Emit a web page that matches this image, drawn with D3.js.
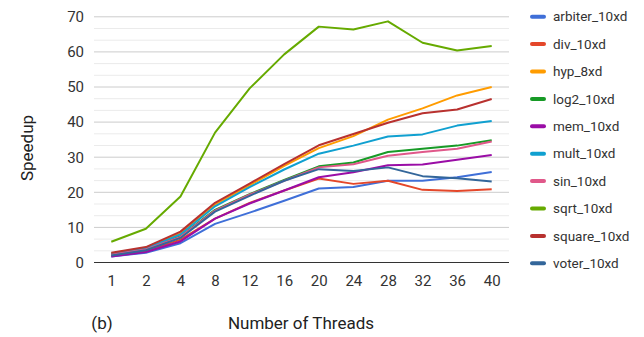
<!DOCTYPE html>
<html><head><meta charset="utf-8">
<script src="https://cdn.jsdelivr.net/npm/d3@7"></script>
<style>body{margin:0;background:#fff}svg{display:block;font-family:Roboto,Arial,sans-serif}</style>
</head><body><svg id="c" width="644" height="337"></svg>
<script>
const threads = ["1","2","4","8","12","16","20","24","28","32","36","40"];
const seriesNames = ["arbiter_10xd","div_10xd","hyp_8xd","log2_10xd","mem_10xd","mult_10xd","sin_10xd","sqrt_10xd","square_10xd","voter_10xd"];
const colors = ["#3f6fd8","#e4472a","#ff9c00","#179a26","#9a0da6","#10a0d0","#e0588a","#66aa00","#b8312f","#33669a"];
const arbiter = [1.7,2.8,5.5,11,14.2,17.6,21.1,21.5,23.3,23.3,24.3,25.8];
const div =     [2.0,3.3,6.5,12.5,17,20.5,23.9,22.4,23.3,20.7,20.4,20.9];
const hyp =     [2.6,4.2,8.3,16.5,22,27.5,32.6,36,40.7,43.9,47.6,50];
const log2 =    [2.3,3.8,7.5,15,19.5,23.5,27.4,28.5,31.5,32.4,33.3,34.8];
const mem =     [1.7,3.0,6.0,12.5,16.8,20.5,24.3,25.7,27.7,27.9,29.3,30.6];
const mult =    [2.5,4.0,8.0,16,21.5,26.5,31,33.3,35.9,36.5,39,40.3];
const sin =     [2.2,3.7,7.3,14.8,19.3,23.3,27.1,28,30.4,31.5,32.4,34.5];
const sqrt =    [5.9,9.6,18.8,37,49.6,59.3,67.2,66.4,68.7,62.6,60.4,61.7];
const square =  [2.8,4.4,8.8,17,22.5,28,33.4,36.6,39.8,42.5,43.6,46.6];
const voter =   [2.0,3.5,7.0,14.5,19,23.3,26.6,26.1,27.1,24.6,24.0,23.1];
const yMajor = [0,10,20,30,40,50,60,70];
const seriesValues = [arbiter,div,hyp,log2,mem,mult,sin,sqrt,square,voter];

const svg = d3.select("#c");
const L = 94, R = 509, T = 16.8, B = 262.5;
const x = d3.scalePoint().domain(threads).range([L, R]).padding(0.5);
const y = d3.scaleLinear().domain([0,70]).range([B, T]);

// minor gridlines
const minor = d3.range(0, 70.01, 10/3).filter(v => Math.abs(v/10 - Math.round(v/10)) > 0.01);
svg.append("g").selectAll("line").data(minor).join("line")
  .attr("x1", L).attr("x2", R).attr("y1", d => y(d)).attr("y2", d => y(d))
  .attr("stroke", "#ebebeb").attr("stroke-width", 1);
// major gridlines
svg.append("g").selectAll("line").data(yMajor.filter(v=>v>0)).join("line")
  .attr("x1", L).attr("x2", R).attr("y1", d => y(d)).attr("y2", d => y(d))
  .attr("stroke", "#cccccc").attr("stroke-width", 1);
// baseline
svg.append("line").attr("x1", L).attr("x2", R).attr("y1", y(0)).attr("y2", y(0))
  .attr("stroke", "#333").attr("stroke-width", 1);

// y axis labels
const yAxis = d3.axisLeft(y).tickValues(yMajor).tickSize(0).tickPadding(10);
const gy = svg.append("g").attr("transform", `translate(${L},0)`).call(yAxis);
gy.select(".domain").remove();
gy.selectAll("text").attr("font-size", 15).attr("fill", "#333").attr("font-family","Roboto");

// x axis labels
const xAxis = d3.axisBottom(x).tickSize(0).tickPadding(13);
const gx = svg.append("g").attr("transform", `translate(0,${B})`).call(xAxis);
gx.select(".domain").remove();
gx.selectAll("text").attr("font-size", 15).attr("fill", "#333").attr("font-family","Roboto");

// lines
const line = d3.line().x((d,i) => x(threads[i])).y(d => y(d));
svg.append("g").selectAll("path").data(seriesValues).join("path")
  .attr("d", d => line(d)).attr("fill", "none")
  .attr("stroke", (d,i) => colors[i]).attr("stroke-width", 2)
  .attr("stroke-linejoin", "round");

// legend
const lg = svg.append("g").selectAll("g").data(seriesNames).join("g")
  .attr("transform", (d,i) => `translate(531,${16.7 + i*27.4})`);
lg.append("line").attr("x1", 1).attr("x2", 13).attr("stroke", (d,i) => colors[i])
  .attr("stroke-width", 4).attr("stroke-linecap", "round");
lg.append("text").attr("x", 22).attr("dy", "0.35em").text(d => d)
  .attr("font-size", 13.5).attr("fill", "#333");

// titles
svg.append("text").attr("transform", "translate(33,148) rotate(-90)")
  .attr("text-anchor", "middle").attr("font-size", 17).attr("fill", "#222").text("Speedup");
svg.append("text").attr("x", 301).attr("y", 329).attr("text-anchor", "middle")
  .attr("font-size", 17).attr("fill", "#222").text("Number of Threads");
svg.append("text").attr("x", 102).attr("y", 329).attr("text-anchor", "middle")
  .attr("font-size", 17).attr("fill", "#222").text("(b)");
</script></body></html>
